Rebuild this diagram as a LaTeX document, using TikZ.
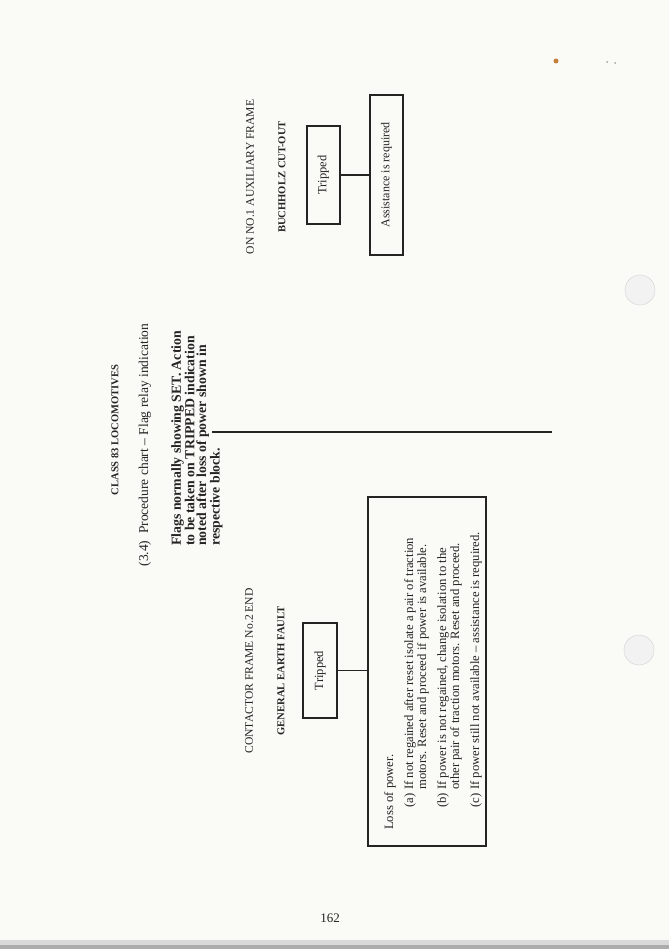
\documentclass[tikz,border=0pt]{standalone}
\usepackage{fontspec}
\setmainfont{Liberation Serif}
\usetikzlibrary{positioning}

\definecolor{paper}{RGB}{250,250,247}
\definecolor{ink}{RGB}{38,36,34}
\definecolor{speck}{RGB}{196,128,58}
\newcommand{\fsz}[2]{\fontsize{#1}{#2}\selectfont}

\begin{document}
\begin{tikzpicture}[x=1pt,y=-1pt,
    rtext/.style={rotate=90,inner sep=0pt,text=ink},
    flagbox/.style={rotate=90,draw=ink,line width=1.8pt,inner sep=0pt,text=ink},
    link/.style={draw=ink,line width=1.5pt}]
    % the scanned page
    \fill[paper] (0,0) rectangle (669,949);
    \useasboundingbox (0,0) rectangle (669,949);
    \fill[gray!30] (0,940) rectangle (669,949);
    \fill[gray!65] (0,945) rectangle (669,949);
    \filldraw[fill=gray!10,draw=gray!35] (640,290) circle[radius=15pt]; % punched holes
    \filldraw[fill=gray!10,draw=gray!35] (639,650) circle[radius=15pt];
    \fill[speck] (556,61) circle[radius=2.5pt];
    \fill[gray!70] (607,62) circle[radius=1pt];
    \fill[gray!70] (615,63) circle[radius=1pt];

    % heading
    \node[rtext,font=\fsz{10.5}{12}\bfseries] (title) at (115,430) {CLASS 83 LOCOMOTIVES};
    \node[rtext,font=\fsz{13.5}{15}] (chart) at (145,445)
      {(3.4)\ \ Procedure chart -- Flag relay indication};
    \node[rtext,anchor=north west,align=left,font=\fsz{13.8}{11.6}\bfseries] (flagnote) at (171,546)
      {Flags normally showing SET. Action\\
       to be taken on TRIPPED indication\\
       noted after loss of power shown in\\
       respective block.};
    \coordinate (rule-l) at (212,432);
    \coordinate (rule-r) at (552,432);
    \draw[link,line width=1.8pt] (rule-l) -- (rule-r);

    % auxiliary frame
    \node[rtext,font=\fsz{11.6}{13}] (auxframe) at (250,177) {ON NO.1 AUXILIARY FRAME};
    \node[rtext,font=\fsz{10.6}{12}\bfseries] (buchholz) at (282,177) {BUCHHOLZ CUT-OUT};
    \node[flagbox,minimum width=98pt,minimum height=33pt,font=\fsz{12.5}{13}] (tripA) at (323.3,175) {Tripped};
    \node[flagbox,minimum width=160pt,minimum height=33pt,font=\fsz{12}{13}] (assist) at (386.5,175) {Assistance is required};
    \draw[link] (tripA) -- (assist);

    % contactor frame
    \node[rtext,font=\fsz{11.6}{13}] (contactor) at (249,671) {CONTACTOR FRAME No.2 END};
    \node[rtext,font=\fsz{10.6}{12}\bfseries] (earthfault) at (281,671) {GENERAL EARTH FAULT};
    \node[flagbox,minimum width=95pt,minimum height=34pt,font=\fsz{12.5}{13}] (tripB) at (320,670.5) {Tripped};
    \node[flagbox,minimum width=349pt,minimum height=118pt] (powerbox) at (427,671.5) {};
    \draw[link] (tripB.south) -- (tripB.south -| powerbox.north);
    \node[rtext,anchor=north west,align=left,font=\fsz{12.7}{13}] (powertext) at (384,830)
      {Loss of power.\\[7pt]
       \hspace*{22pt}\makebox[18pt][l]{(a)}If not regained after reset isolate a pair of traction\\
       \hspace*{40pt}motors. Reset and proceed if power is available.\\[7pt]
       \hspace*{22pt}\makebox[18pt][l]{(b)}If power is not regained, change isolation to the\\
       \hspace*{40pt}other pair of traction motors. Reset and proceed.\\[7pt]
       \hspace*{22pt}\makebox[18pt][l]{(c)}If power still not available -- assistance is required.};

    \node[inner sep=0pt,text=ink,font=\fsz{13}{15}] (pagenum) at (330,918) {162};
\end{tikzpicture}
\end{document}
